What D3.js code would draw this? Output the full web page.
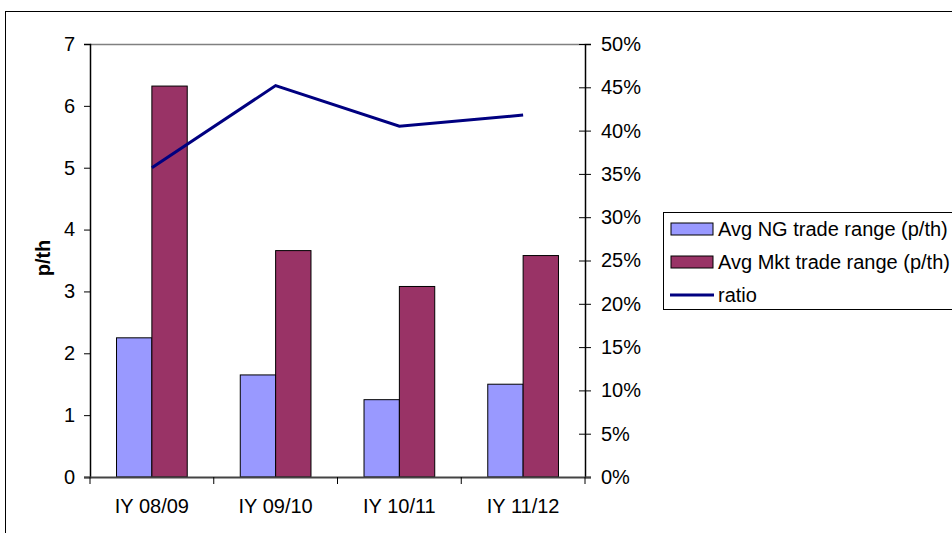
<!DOCTYPE html>
<html>
<head>
<meta charset="utf-8">
<script src="https://cdn.jsdelivr.net/npm/d3@7"></script>
<style>
  body { margin: 0; background: #fff; }
  svg text { font-family: Arial, "Liberation Sans", sans-serif; fill: #000; }
</style>
</head>
<body>
<div id="chart"></div>
<script>
var categories = ['IY 08/09', 'IY 09/10', 'IY 10/11', 'IY 11/12'];
var ngRange = [2.25, 1.65, 1.25, 1.5];
var mktRange = [6.32, 3.66, 3.08, 3.58];
var ratio = [0.357, 0.452, 0.405, 0.418];
var leftTicks = [0, 1, 2, 3, 4, 5, 6, 7];
var rightTicks = [0, 0.05, 0.1, 0.15, 0.2, 0.25, 0.3, 0.35, 0.4, 0.45, 0.5];
var seriesNames = ['Avg NG trade range (p/th)', 'Avg Mkt trade range (p/th)', 'ratio'];

var width = 952, height = 533;
var plotLeft = 90, plotRight = 585, plotTop = 44, plotBottom = 477;
var fontSize = 20;

var svg = d3.select('#chart').append('svg')
  .attr('width', width)
  .attr('height', height);

// chart border (runs off the right and bottom edge)
svg.append('rect')
  .attr('x', 5.5).attr('y', 11.5)
  .attr('width', 980).attr('height', 560)
  .attr('fill', 'none').attr('stroke', '#000');

var x = d3.scaleBand().domain(categories).range([plotLeft, plotRight]);
var y = d3.scaleLinear().domain([0, 7]).range([plotBottom, plotTop]);
var y2 = d3.scaleLinear().domain([0, 0.5]).range([plotBottom, plotTop]);

var barW = x.bandwidth() / 3.5;

// top border of plot area
svg.append('line')
  .attr('x1', plotLeft).attr('x2', plotRight)
  .attr('y1', y(7) + 0.5).attr('y2', y(7) + 0.5)
  .attr('stroke', '#808080').attr('stroke-width', 1.5);

// bars
var groups = svg.selectAll('.grp')
  .data(categories)
  .enter().append('g')
  .attr('class', 'grp');

groups.append('rect')
  .attr('x', function(d) { return x(d) + x.bandwidth() / 2 - barW; })
  .attr('y', function(d, i) { return y(ngRange[i]); })
  .attr('width', barW)
  .attr('height', function(d, i) { return y(0) - y(ngRange[i]); })
  .attr('fill', '#9999ff').attr('stroke', '#000').attr('stroke-width', 1);

groups.append('rect')
  .attr('x', function(d) { return x(d) + x.bandwidth() / 2; })
  .attr('y', function(d, i) { return y(mktRange[i]); })
  .attr('width', barW)
  .attr('height', function(d, i) { return y(0) - y(mktRange[i]); })
  .attr('fill', '#993366').attr('stroke', '#000').attr('stroke-width', 1);

// left axis
var yAxis = svg.append('g')
  .attr('transform', 'translate(' + plotLeft + ',0)')
  .call(d3.axisLeft(y).tickValues(leftTicks).tickSize(6).tickPadding(9)
    .tickFormat(d3.format('d')));

// right axis
var y2Axis = svg.append('g')
  .attr('transform', 'translate(' + plotRight + ',0)')
  .call(d3.axisRight(y2).tickValues(rightTicks).tickSize(6).tickPadding(10)
    .tickFormat(d3.format('.0%')));
y2Axis.selectAll('.tick line').attr('x1', -6);

// bottom axis
var xAxis = svg.append('g')
  .attr('transform', 'translate(0,' + plotBottom + ')')
  .call(d3.axisBottom(x).tickSize(0).tickPadding(22));
xAxis.select('.domain').attr('d', 'M' + (plotLeft - 6) + ',0.5H' + (plotRight + 6));
xAxis.selectAll('.bound')
  .data(d3.range(categories.length + 1))
  .enter().append('line')
  .attr('class', 'bound')
  .attr('x1', function(i) { return plotLeft + i * x.step(); })
  .attr('x2', function(i) { return plotLeft + i * x.step(); })
  .attr('y1', 0).attr('y2', 7)
  .attr('stroke', '#000');

[yAxis, y2Axis, xAxis].forEach(function(ax) {
  ax.selectAll('text').style('font-size', fontSize + 'px')
    .style('font-family', 'Arial, "Liberation Sans", sans-serif');
  ax.selectAll('.domain').attr('stroke', '#000').attr('stroke-width', 1.5);
});
xAxis.select('.domain').attr('stroke', '#444').attr('stroke-width', 2);

// y axis title
svg.append('text')
  .attr('transform', 'translate(50,258) rotate(-90)')
  .attr('text-anchor', 'middle')
  .style('font-size', fontSize + 'px')
  .style('font-weight', 'bold')
  .text('p/th');

// ratio line
var line = d3.line()
  .x(function(d, i) { return x(categories[i]) + x.bandwidth() / 2; })
  .y(function(d) { return y2(d); });

svg.append('path')
  .datum(ratio)
  .attr('d', line)
  .attr('fill', 'none')
  .attr('stroke', '#000080')
  .attr('stroke-width', 3);

// legend
var legend = svg.append('g').attr('transform', 'translate(663,212)');
legend.append('rect')
  .attr('x', 0.5).attr('y', 0.5)
  .attr('width', 320).attr('height', 97)
  .attr('fill', '#fff').attr('stroke', '#000');

var legendColors = ['#9999ff', '#993366', '#000080'];
var item = legend.selectAll('.item')
  .data(seriesNames)
  .enter().append('g')
  .attr('class', 'item')
  .attr('transform', function(d, i) { return 'translate(0,' + (17 + i * 33) + ')'; });

item.filter(function(d, i) { return i < 2; })
  .append('rect')
  .attr('x', 8).attr('y', -6)
  .attr('width', 42).attr('height', 12)
  .attr('fill', function(d, i) { return legendColors[i]; })
  .attr('stroke', '#000');

item.filter(function(d, i) { return i === 2; })
  .append('line')
  .attr('x1', 7).attr('x2', 51)
  .attr('y1', 0).attr('y2', 0)
  .attr('stroke', '#000080').attr('stroke-width', 3);

item.append('text')
  .attr('x', 55)
  .attr('dy', '0.35em')
  .style('font-size', fontSize + 'px')
  .text(function(d) { return d; });
</script>
</body>
</html>
